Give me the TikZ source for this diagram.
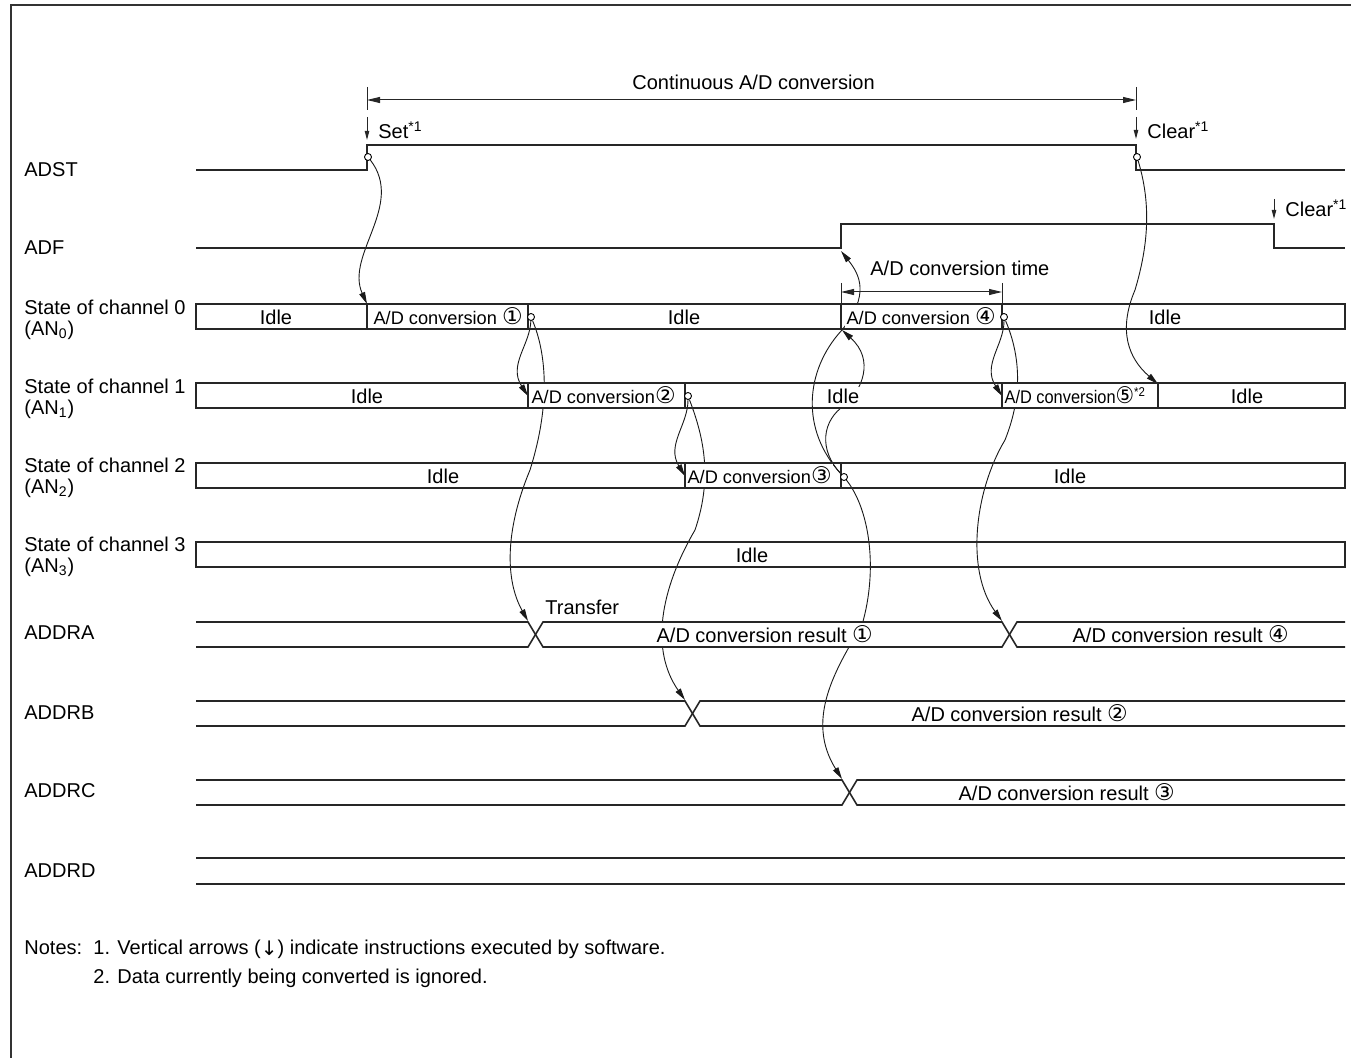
\documentclass[tikz,border=0pt]{standalone}
\usepackage{fontspec}
\usepackage{graphicx}
\setmainfont{Liberation Sans}
\newfontfamily\djv{DejaVu Sans}
\usetikzlibrary{arrows.meta}
\pgfdeclarelayer{bg}
\pgfsetlayers{bg,main}
\newcommand\cnum[1]{{\djv\fontsize{11.5}{10}\selectfont #1}}
\begin{document}
\begin{tikzpicture}[x=0.5pt,y=-0.5pt,font=\fontsize{10}{12}\selectfont,
  sig/.style={line width=0.8pt,black!85},
  dimln/.style={line width=0.5pt,black!85},
  crv/.style={line width=0.45pt,black!90,-{Triangle[length=6pt,width=3pt]}},
  lbl/.style={anchor=west,inner sep=0pt},
  tl/.style={anchor=base west,inner sep=0pt},
  txt/.style={anchor=base,fill=white,inner xsep=0.6pt,inner ysep=1.5pt},
  txtw/.style={anchor=base west,fill=white,inner xsep=0.6pt,inner ysep=1.5pt},
  cv/.style={font=\fontsize{9.1}{11}\selectfont},
  circ/.style={circle,draw,fill=white,inner sep=0pt,minimum size=3.5pt,line width=0.45pt},
  stip/.style={-{Triangle[length=4.5pt,width=2.2pt]}}]
\useasboundingbox (0,0) rectangle (1351,1058);
\draw[line width=1.1pt,black!80] (11,1062) -- (11,5) -- (1356,5);

% ---------- top dimension ----------
\node[tl] (cont) at (632,90) {Continuous A/D conversion};
\coordinate (d1a) at (367,87); \coordinate (d1b) at (367,110);
\coordinate (d2a) at (1136,87); \coordinate (d2b) at (1136,110);
\draw[dimln] (d1a) -- (d1b);
\draw[dimln] (d2a) -- (d2b);
\coordinate (dl) at (367,100); \coordinate (dr) at (1136,100);
\draw[dimln,{Triangle[length=6.5pt,width=3pt]}-{Triangle[length=6.5pt,width=3pt]}] (dl) -- (dr);

% set / clear software arrows
\coordinate (set0) at (367,117); \coordinate (set1) at (367,140);
\draw[dimln,stip] (set0) -- (set1);
\node[tl] (settxt) at (378,139) {Set\textsuperscript{*1}};
\coordinate (clr0) at (1136,117); \coordinate (clr1) at (1136,139);
\draw[dimln,stip] (clr0) -- (clr1);
\node[tl] (clrtxt) at (1147,139) {Clear\textsuperscript{*1}};
\coordinate (clb0) at (1274,199); \coordinate (clb1) at (1274,219);
\draw[dimln,stip] (clb0) -- (clb1);
\node[tl] (clbtxt) at (1285,217) {Clear\textsuperscript{*1}};

% ---------- left labels ----------
\node[lbl] (ladst) at (24,170) {ADST};
\node[lbl] (ladf) at (24,248) {ADF};
\node[tl] (l0a) at (24,315) {State of channel 0};
\node[tl] (l0b) at (24,336) {(AN\textsubscript{0})};
\node[tl] (l1a) at (24,394) {State of channel 1};
\node[tl] (l1b) at (24,415) {(AN\textsubscript{1})};
\node[tl] (l2a) at (24,473) {State of channel 2};
\node[tl] (l2b) at (24,494) {(AN\textsubscript{2})};
\node[tl] (l3a) at (24,552) {State of channel 3};
\node[tl] (l3b) at (24,573) {(AN\textsubscript{3})};
\node[lbl] (laddra) at (24,633) {ADDRA};
\node[lbl] (laddrb) at (24,713) {ADDRB};
\node[lbl] (laddrc) at (24,791) {ADDRC};
\node[lbl] (laddrd) at (24,871) {ADDRD};

% ---------- ADST / ADF waveforms ----------
\draw[sig] (196,170) -- (367,170) -- (367,145) -- (1136,145) -- (1136,170) -- (1345,170);
\draw[sig] (196,248) -- (841,248) -- (841,224) -- (1274,224) -- (1274,248) -- (1345,248);

% A/D conversion time
\node[tl] (adtime) at (870,276) {A/D conversion time};
\coordinate (ta1) at (841,283); \coordinate (ta2) at (841,304);
\coordinate (tb1) at (1002,283); \coordinate (tb2) at (1002,304);
\draw[dimln] (ta1) -- (ta2);
\draw[dimln] (tb1) -- (tb2);
\coordinate (tle) at (841,292); \coordinate (tre) at (1002,292);
\draw[dimln,{Triangle[length=6.5pt,width=3pt]}-{Triangle[length=6.5pt,width=3pt]}] (tle) -- (tre);

% ---------- channel texts ----------
\node[txt] (i0a) at (276,325) {Idle};
\node[txtw,cv] (c0a) at (372,325) {A/D conversion \cnum{①}};
\node[txt] (i0b) at (684,325) {Idle};
\node[txtw,cv] (c0b) at (845,325) {A/D conversion \cnum{④}};
\node[txt] (i0c) at (1165,325) {Idle};

\node[txt] (i1a) at (367,404) {Idle};
\node[txtw,cv] (c1a) at (530,404) {A/D conversion\cnum{②}};
\node[txt] (i1b) at (843,404) {Idle};
\node[txtw,cv] (c1b) at (1003,404) {\scalebox{0.9}[1]{A/D conversion\cnum{⑤}\textsuperscript{*2}}};
\node[txt] (i1c) at (1247,404) {Idle};

\node[txt] (i2a) at (443,484) {Idle};
\node[txtw,cv] (c2a) at (686,484) {A/D conversion\cnum{③}};
\node[txt] (i2b) at (1070,484) {Idle};

\node[txt] (i3a) at (752,563) {Idle};

% ---------- bus texts ----------
\node[tl] (trf) at (545,615) {Transfer};
\node[txtw] (ra1) at (655,643) {A/D conversion result \cnum{①}};
\node[txtw] (ra4) at (1071,643) {A/D conversion result \cnum{④}};
\node[txtw] (rb2) at (910,722) {A/D conversion result \cnum{②}};
\node[txtw] (rc3) at (957,801) {A/D conversion result \cnum{③}};

% ---------- channel boxes ----------
\draw[sig] (196,304) rectangle (1345,329);
\draw[sig] (367,304) -- (367,329) (528,304) -- (528,329) (841,304) -- (841,329) (1002,304) -- (1002,329);
\draw[sig] (196,383) rectangle (1345,408);
\draw[sig] (528,383) -- (528,408) (685,383) -- (685,408) (1002,383) -- (1002,408) (1158,383) -- (1158,408);
\draw[sig] (196,463) rectangle (1345,488);
\draw[sig] (685,463) -- (685,488) (841,463) -- (841,488);
\draw[sig] (196,542) rectangle (1345,567);

% ---------- buses ----------
\draw[sig] (196,622) -- (528,622) -- (543,647) -- (1002,647) -- (1017,622) -- (1345,622);
\draw[sig] (196,647) -- (528,647) -- (543,622) -- (1002,622) -- (1017,647) -- (1345,647);
\draw[sig] (196,701) -- (685,701) -- (700,726) -- (1345,726);
\draw[sig] (196,726) -- (685,726) -- (700,701) -- (1345,701);
\draw[sig] (196,780) -- (842,780) -- (857,805) -- (1345,805);
\draw[sig] (196,805) -- (842,805) -- (857,780) -- (1345,780);
\draw[sig] (196,858) -- (1345,858);
\draw[sig] (196,884) -- (1345,884);

% ---------- notes ----------
\node[tl] (n0) at (24,955) {Notes:};
\node[tl] (n1) at (93,955) {1. Vertical arrows (\raisebox{-0.3pt}{\djv\fontsize{10}{10}\selectfont ↓}) indicate instructions executed by software.};
\node[tl] (n2) at (93,984) {2. Data currently being converted is ignored.};

% ---------- event circles ----------
\node[circ] (s1) at (368,157) {};
\node[circ] (s2) at (1137,157) {};
\node[circ] (c01) at (531,317) {};
\node[circ] (c04) at (1004,317) {};
\node[circ] (c12) at (688,396) {};
\node[circ] (c23) at (844,477) {};

% targets
\coordinate (t0a) at (367,304);
\coordinate (t1b) at (528,396);
\coordinate (t2c) at (685,476);
\coordinate (t0d) at (842,330);
\coordinate (adfr) at (841,251);
\coordinate (t1e) at (1002,396);
\coordinate (t1f) at (1158,384);
\coordinate (xa1) at (528,621);
\coordinate (xa2) at (1002,621);
\coordinate (xb) at (685,700);
\coordinate (xc) at (842,779);

% ---------- curved connectors ----------
\begin{pgfonlayer}{bg}
\draw[crv] (s1) .. controls (405,205) and (345,255) .. (t0a);
\draw[crv] (c01) .. controls (530,345) and (508,365) .. (t1b);
\draw[crv] (c01) .. controls (545,350) and (552,400) .. (530,470) .. controls (505,530) and (505,580) .. (xa1);
\draw[crv] (c12) .. controls (688,425) and (666,445) .. (t2c);
\draw[crv] (c12) .. controls (705,440) and (712,480) .. (695,530) .. controls (660,590) and (650,650) .. (xb);
\draw[crv] (c23) .. controls (800,430) and (805,370) .. (842,330) .. controls (870,295) and (860,275) .. (adfr);
\draw[crv] (c23) .. controls (818,450) and (822,420) .. (845,405) .. controls (862,390) and (875,360) .. (t0d);
\draw[crv] (c23) .. controls (870,510) and (878,570) .. (862,625) .. controls (835,670) and (805,720) .. (xc);
\draw[crv] (c04) .. controls (1004,345) and (982,365) .. (t1e);
\draw[crv] (c04) .. controls (1018,350) and (1025,390) .. (1005,440) .. controls (975,490) and (965,570) .. (xa2);
\draw[crv] (s2) .. controls (1150,200) and (1150,240) .. (1135,290) .. controls (1118,330) and (1128,358) .. (t1f);
\end{pgfonlayer}
\end{tikzpicture}
\end{document}
